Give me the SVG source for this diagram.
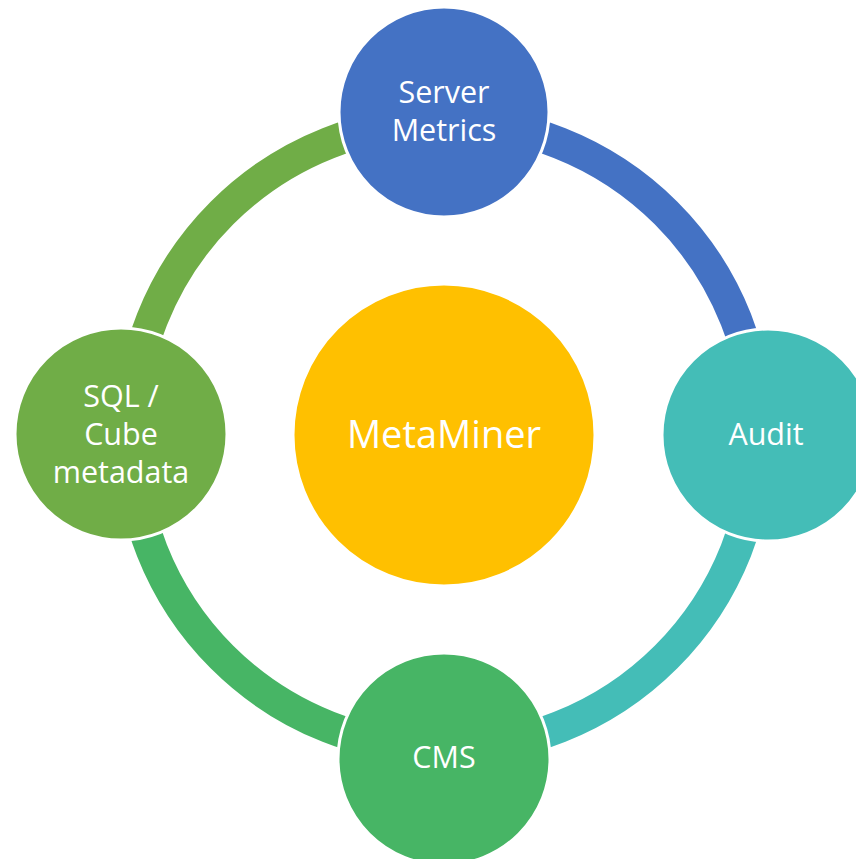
<svg xmlns="http://www.w3.org/2000/svg" width="856" height="859" viewBox="0 0 856 859">
  <style>
    .arc { fill: none; stroke-width: 32; stroke-linecap: butt; }
    .node { stroke: #FFFFFF; stroke-width: 3; }
    .lbl { fill: #FFFFFF; font-family: "Open Sans", "Noto Sans", "DejaVu Sans", sans-serif; font-size: 30.5px; text-anchor: middle; }
    .big { font-size: 38px; }
  </style>
  <rect width="856" height="859" fill="#FFFFFF"/>
  <g id="connectors">
    <path class="arc" stroke="#70AD47" d="M130,435 A314,314 0 0 1 444,121"/>
    <path class="arc" stroke="#4472C4" d="M444,121 A314,314 0 0 1 758,435"/>
    <path class="arc" stroke="#44BDB7" d="M758,435 A314,314 0 0 1 444,749"/>
    <path class="arc" stroke="#47B565" d="M444,749 A314,314 0 0 1 130,435"/>
  </g>
  <g id="metaminer">
    <circle class="node" cx="444" cy="435" r="151" fill="#FFC000"/>
    <text class="lbl big" x="444" y="448">MetaMiner</text>
  </g>
  <g id="server-metrics">
    <circle class="node" cx="444" cy="112" r="105" fill="#4472C4"/>
    <text class="lbl" x="444" y="103">Server</text>
    <text class="lbl" x="444" y="141">Metrics</text>
  </g>
  <g id="audit">
    <circle class="node" cx="768" cy="435" r="106" fill="#44BDB7"/>
    <text class="lbl" x="766" y="445">Audit</text>
  </g>
  <g id="cms">
    <circle class="node" cx="444" cy="759" r="106" fill="#47B565"/>
    <text class="lbl" x="444" y="768">CMS</text>
  </g>
  <g id="sql-cube">
    <circle class="node" cx="121" cy="434" r="106" fill="#70AD47"/>
    <text class="lbl" x="121" y="407">SQL /</text>
    <text class="lbl" x="121" y="445">Cube</text>
    <text class="lbl" x="121" y="483">metadata</text>
  </g>
</svg>
